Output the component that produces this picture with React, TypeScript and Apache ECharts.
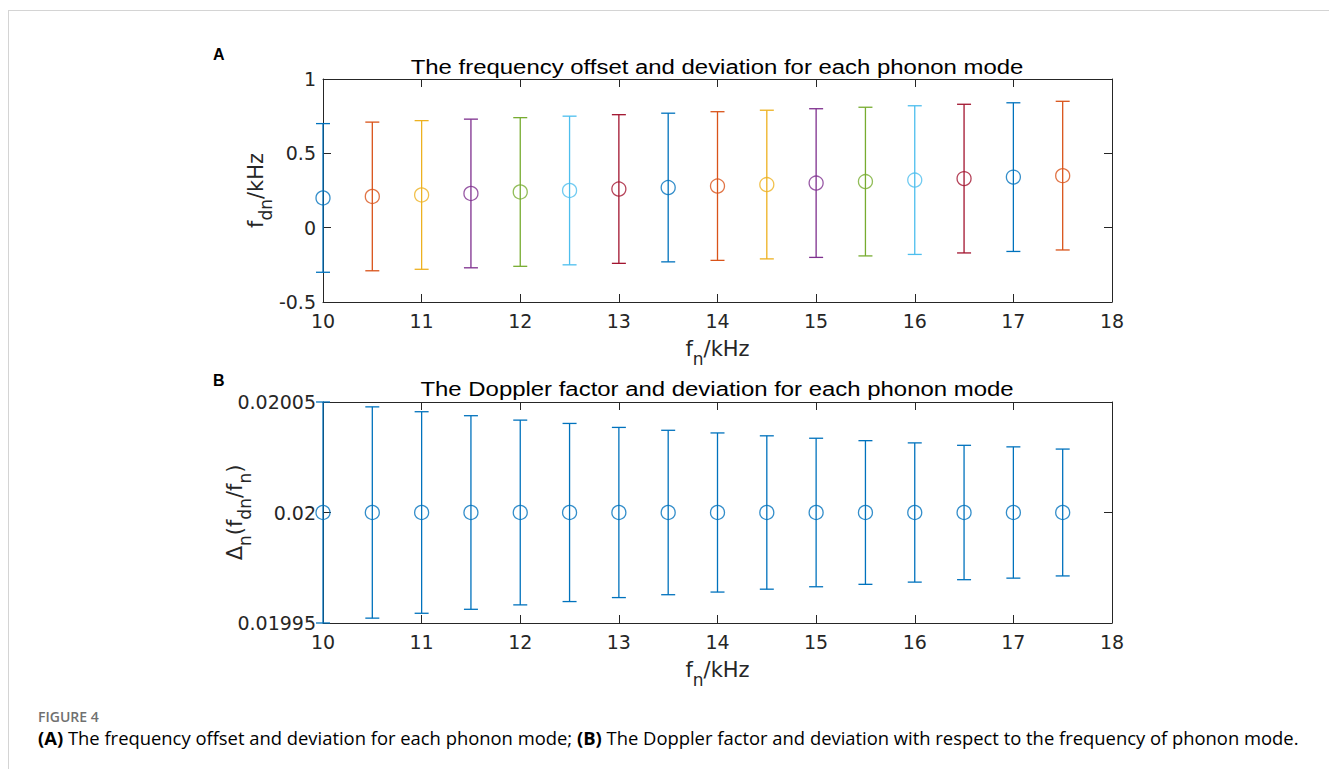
import React, { useEffect, useRef } from "react";
import * as echarts from "echarts";

const freqs = [10, 10.5, 11, 11.5, 12, 12.5, 13, 13.5, 14, 14.5, 15, 15.5, 16, 16.5, 17, 17.5];
const offsetMeans = [0.2, 0.21, 0.22, 0.23, 0.24, 0.25, 0.26, 0.27, 0.28, 0.29, 0.3, 0.31, 0.32, 0.33, 0.34, 0.35];
const offsetDevs = [0.5, 0.5, 0.5, 0.5, 0.5, 0.5, 0.5, 0.5, 0.5, 0.5, 0.5, 0.5, 0.5, 0.5, 0.5, 0.5];
const dopplerMeans = [0.02, 0.02, 0.02, 0.02, 0.02, 0.02, 0.02, 0.02, 0.02, 0.02, 0.02, 0.02, 0.02, 0.02, 0.02, 0.02];
const dopplerDevs = [
  5.0e-5, 4.78e-5, 4.56e-5, 4.38e-5, 4.18e-5, 4.03e-5, 3.85e-5, 3.72e-5,
  3.6e-5, 3.47e-5, 3.36e-5, 3.25e-5, 3.15e-5, 3.04e-5, 2.97e-5, 2.87e-5,
];
const xTicks = [10, 11, 12, 13, 14, 15, 16, 17, 18];
const yTicksA = [-0.5, 0, 0.5, 1];
const yTicksB = [0.01995, 0.02, 0.02005];
const matlabColors = ["#0072BD", "#D95319", "#EDB120", "#7E2F8E", "#77AC30", "#4DBEEE", "#A2142F"];
const titleA = "The frequency offset and deviation for each phonon mode";
const titleB = "The Doppler factor and deviation for each phonon mode";
const captionA = " The frequency offset and deviation for each phonon mode; ";
const captionB = " The Doppler factor and deviation with respect to the frequency of phonon mode.";

const FONT = "'Liberation Sans', Arial, Helvetica, sans-serif";
const AXFONT = "'DejaVu Sans', sans-serif";
const CAPFONT = "'Open Sans', sans-serif";
const AX = "#262626";

const nameRich = {
  m: { fontSize: 21, fontFamily: AXFONT, color: AX, verticalAlign: "top", lineHeight: 23 },
  s: { fontSize: 17, fontFamily: AXFONT, color: AX, verticalAlign: "top", lineHeight: 17, padding: [12, 0, 0, 0] },
};

function fmt(v: number) {
  return String(parseFloat(v.toFixed(6)));
}

function makeAxes(gridIndex: number, yMin: number, yMax: number, yInterval: number, xName: string, yName: string, yGap: number) {
  const line = { show: true, onZero: false, lineStyle: { color: AX, width: 1 } };
  const tick = { show: true, inside: true, length: 8, lineStyle: { color: AX } };
  const xs: any[] = [
    {
      type: "value", gridIndex, min: xTicks[0], max: xTicks[xTicks.length - 1], interval: 1,
      axisLine: line, axisTick: tick,
      axisLabel: { show: true, margin: 9, fontSize: 19, fontFamily: AXFONT, color: AX, formatter: fmt },
      splitLine: { show: false },
      name: xName, nameLocation: "middle", nameGap: 36, nameMoveOverlap: false, nameTextStyle: { rich: nameRich },
    },
    {
      type: "value", gridIndex, position: "top", min: xTicks[0], max: xTicks[xTicks.length - 1], interval: 1,
      axisLine: line, axisTick: tick,
      axisLabel: { show: false }, splitLine: { show: false },
    },
  ];
  const ys: any[] = [
    {
      type: "value", gridIndex, min: yMin, max: yMax, interval: yInterval,
      axisLine: line, axisTick: tick,
      axisLabel: { show: true, margin: 7, fontSize: 19, fontFamily: AXFONT, color: AX, formatter: fmt },
      splitLine: { show: false },
      name: yName, nameLocation: "middle", nameRotate: 90, nameGap: yGap, nameMoveOverlap: false, nameTextStyle: { rich: nameRich },
    },
    {
      type: "value", gridIndex, position: "right", min: yMin, max: yMax, interval: yInterval,
      axisLine: line, axisTick: tick,
      axisLabel: { show: false }, splitLine: { show: false },
    },
  ];
  return { xs, ys };
}

function errorSeries(xAxisIndex: number, yAxisIndex: number, means: number[], devs: number[], colorOf: (i: number) => string) {
  const data = freqs.map((f, i) => [f, means[i] - devs[i], means[i] + devs[i]]);
  return {
    type: "custom",
    xAxisIndex, yAxisIndex,
    clip: false,
    silent: true,
    data,
    renderItem: (params: any, api: any) => {
      const x = api.value(0);
      const top = api.coord([x, api.value(2)]);
      const bot = api.coord([x, api.value(1)]);
      const hw = 7;
      const color = colorOf(params.dataIndex);
      const st = { stroke: color, lineWidth: 1.3 };
      return {
        type: "group",
        children: [
          { type: "line", shape: { x1: top[0], y1: top[1], x2: bot[0], y2: bot[1] }, style: st },
          { type: "line", shape: { x1: top[0] - hw, y1: top[1], x2: top[0] + hw, y2: top[1] }, style: st },
          { type: "line", shape: { x1: bot[0] - hw, y1: bot[1], x2: bot[0] + hw, y2: bot[1] }, style: st },
        ],
      };
    },
  };
}

function markerSeries(xAxisIndex: number, yAxisIndex: number, means: number[], colorOf: (i: number) => string) {
  return {
    type: "scatter",
    xAxisIndex, yAxisIndex,
    clip: false,
    silent: true,
    symbol: "circle",
    symbolSize: 14,
    data: freqs.map((f, i) => ({
      value: [f, means[i]],
      itemStyle: { color: "rgba(0,0,0,0)", borderColor: colorOf(i), borderWidth: 1.3 },
    })),
  };
}

export default function App() {
  const ref = useRef<HTMLDivElement>(null);
  useEffect(() => {
    document.body.style.margin = "0";
    const chart = echarts.init(ref.current!, null, { renderer: "svg" });
    const a = makeAxes(0, yTicksA[0], yTicksA[yTicksA.length - 1], 0.5, "{m|f}{s|n}{m|/kHz}", "{m|f}{s|dn}{m|/kHz}", 55);
    const b = makeAxes(1, yTicksB[0], yTicksB[yTicksB.length - 1], 0.00005, "{m|f}{s|n}{m|/kHz}", "{m|Δ}{s|n}{m|(f}{s|dn}{m|/f}{s|n}{m|)}", 76);
    const colA = (i: number) => matlabColors[i % matlabColors.length];
    const colB = () => matlabColors[0];
    const option: any = {
      animation: false,
      backgroundColor: "#ffffff",
      grid: [
        { left: 323, top: 79, width: 789, height: 223 },
        { left: 323, top: 402, width: 789, height: 221 },
      ],
      xAxis: [...a.xs, ...b.xs],
      yAxis: [...a.ys, ...b.ys],
      series: [
        errorSeries(0, 0, offsetMeans, offsetDevs, colA),
        markerSeries(0, 0, offsetMeans, colA),
        errorSeries(2, 2, dopplerMeans, dopplerDevs, colB),
        markerSeries(2, 2, dopplerMeans, colB),
      ],
      graphic: [
        { type: "line", shape: { x1: 8, y1: 10.5, x2: 1329, y2: 10.5 }, style: { stroke: "#d4d4d4", lineWidth: 1 } },
        { type: "line", shape: { x1: 8.5, y1: 10, x2: 8.5, y2: 769 }, style: { stroke: "#d4d4d4", lineWidth: 1 } },
        { type: "text", x: 213, y: 54, style: { text: "A", font: `bold 16px ${FONT}`, fill: "#000", textVerticalAlign: "middle" } },
        { type: "text", x: 213, y: 380, style: { text: "B", font: `bold 16px ${FONT}`, fill: "#000", textVerticalAlign: "middle" } },
        { type: "text", x: 717, y: 67.5, scaleX: 1.14, style: { text: titleA, font: `21px ${FONT}`, fill: "#000", textAlign: "center", textVerticalAlign: "middle" } },
        { type: "text", x: 717, y: 389, scaleX: 1.14, style: { text: titleB, font: `21px ${FONT}`, fill: "#000", textAlign: "center", textVerticalAlign: "middle" } },
        { type: "text", x: 38, y: 716, style: { text: "FIGURE 4", font: `600 14px ${CAPFONT}`, fill: "#707070", textVerticalAlign: "middle" } },
        {
          type: "text", x: 38, y: 737,
          style: {
            text: `{b|(A)}{n|${captionA}}{b|(B)}{n|${captionB}}`,
            textVerticalAlign: "middle",
            rich: {
              b: { fontFamily: CAPFONT, fontSize: 18.4, fontWeight: "bold", color: "#666666" },
              n: { fontFamily: CAPFONT, fontSize: 18.4, color: "#8c8c8c" },
            },
          },
        },
      ],
    };
    chart.setOption(option);
    return () => chart.dispose();
  }, []);
  return <div ref={ref} style={{ width: 1329, height: 769 }} />;
}
